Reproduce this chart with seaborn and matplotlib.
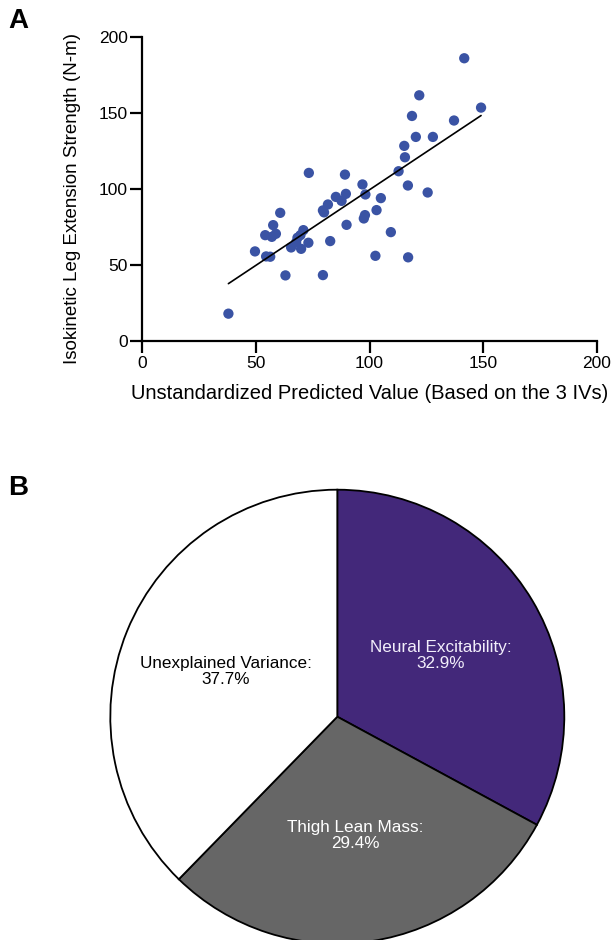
import numpy as np
import pandas as pd
import seaborn as sns
import matplotlib
matplotlib.use("Agg")
import matplotlib.pyplot as plt

# -------------------------
# Data
# -------------------------

predicted = [37.9, 73.3, 89.2, 96.9, 98.2, 89.6, 85.2, 87.7, 81.7, 79.5,
             80.0, 60.7, 98.0, 97.5, 89.9, 57.6, 54.1, 58.8, 57.0, 70.9,
             69.6, 68.3, 67.7, 73.1, 82.7, 65.5, 69.9, 49.6, 54.5, 56.3,
             63.0, 79.5, 141.7, 121.9, 149.1, 118.7, 137.2, 120.4, 127.9, 115.3,
             115.6, 112.8, 116.9, 125.6, 105.0, 103.1, 109.4, 102.6, 117.0]
strength = [18.0, 110.7, 109.6, 103.1, 96.5, 96.9, 94.9, 92.3, 89.9, 86.0,
            84.7, 84.4, 82.9, 80.7, 76.5, 76.3, 69.7, 70.6, 68.6, 73.0,
            69.7, 68.0, 64.9, 64.7, 65.8, 61.6, 60.7, 59.0, 55.7, 55.5,
            43.2, 43.4, 186.2, 161.8, 153.7, 148.2, 145.2, 134.4, 134.4, 128.5,
            121.0, 111.8, 102.4, 97.8, 94.1, 86.2, 71.7, 56.1, 55.1]

x_ticks = [0, 50, 100, 150, 200]
y_ticks = [0, 50, 100, 150, 200]

pie_names = ['Neural Excitability', 'Thigh Lean Mass', 'Unexplained Variance']
pie_values = [32.9, 29.4, 37.7]
pie_colors = ['#43287a', '#666666', '#ffffff']
pie_text_colors = ['#f2eefa', '#ffffff', '#000000']

df = pd.DataFrame({'predicted': predicted, 'strength': strength})

# -------------------------
# Figure setup
# -------------------------

sns.set_style("ticks")
plt.rcParams['font.family'] = ['Liberation Sans', 'DejaVu Sans']
plt.rcParams['text.color'] = 'black'
plt.rcParams['axes.labelcolor'] = 'black'
plt.rcParams['xtick.color'] = 'black'
plt.rcParams['ytick.color'] = 'black'

W, H = 614, 940
fig = plt.figure(figsize=(W / 100, H / 100), dpi=100)

# Panel A: scatter + regression line
ax = fig.add_axes([142.3 / W, 1 - 341 / H, (596.7 - 142.3) / W, (341 - 37.3) / H])
sns.scatterplot(data=df, x='predicted', y='strength', ax=ax, color='#3a53a4',
                s=55, edgecolor='none', clip_on=False)
sns.regplot(data=df, x='predicted', y='strength', ax=ax, scatter=False, ci=None,
            truncate=True, line_kws={'color': 'black', 'lw': 1.2})
ax.set_xlim(0, 200)
ax.set_ylim(0, 200)
ax.set_xticks(x_ticks)
ax.set_yticks(y_ticks)
ax.tick_params(labelsize=12.5, width=1.6, length=8.5, colors='black', pad=2)
for side in ['left', 'bottom']:
    ax.spines[side].set_linewidth(1.6)
    ax.spines[side].set_color('black')
sns.despine(ax=ax)
ax.set_xlabel('Unstandardized Predicted Value (Based on the 3 IVs)', fontsize=14.5, labelpad=10)
ax.set_ylabel('Isokinetic Leg Extension Strength (N-m)', fontsize=13.5, labelpad=13)
ax.yaxis.label.set_y(0.47)

fig.text(8 / W, 1 - 21 / H, 'A', fontsize=20, fontweight='bold', va='center', ha='left')
fig.text(8 / W, 1 - 488 / H, 'B', fontsize=20, fontweight='bold', va='center', ha='left')

# Panel B: pie chart
cx, cy, r = 337.3, 716.7, 227
pax = fig.add_axes([(cx - r) / W, 1 - (cy + r) / H, 2 * r / W, 2 * r / H])
labels = [f'{n}:\n{v}%' for n, v in zip(pie_names, pie_values)]
wedges, texts = pax.pie(pie_values, labels=labels, colors=pie_colors, startangle=90,
                        counterclock=False, labeldistance=0.53, radius=1,
                        wedgeprops={'edgecolor': 'black', 'linewidth': 1.3})
for t, c in zip(texts, pie_text_colors):
    t.set_color(c)
    t.set_ha('center')
    t.set_va('center')
    t.set_fontsize(12.3)
    t.set_linespacing(1.1)
pax.set_xlim(-1, 1)
pax.set_ylim(-1, 1)
pax.set_aspect('equal')
pax.axis('off')

fig.savefig('out.png', dpi=100)
